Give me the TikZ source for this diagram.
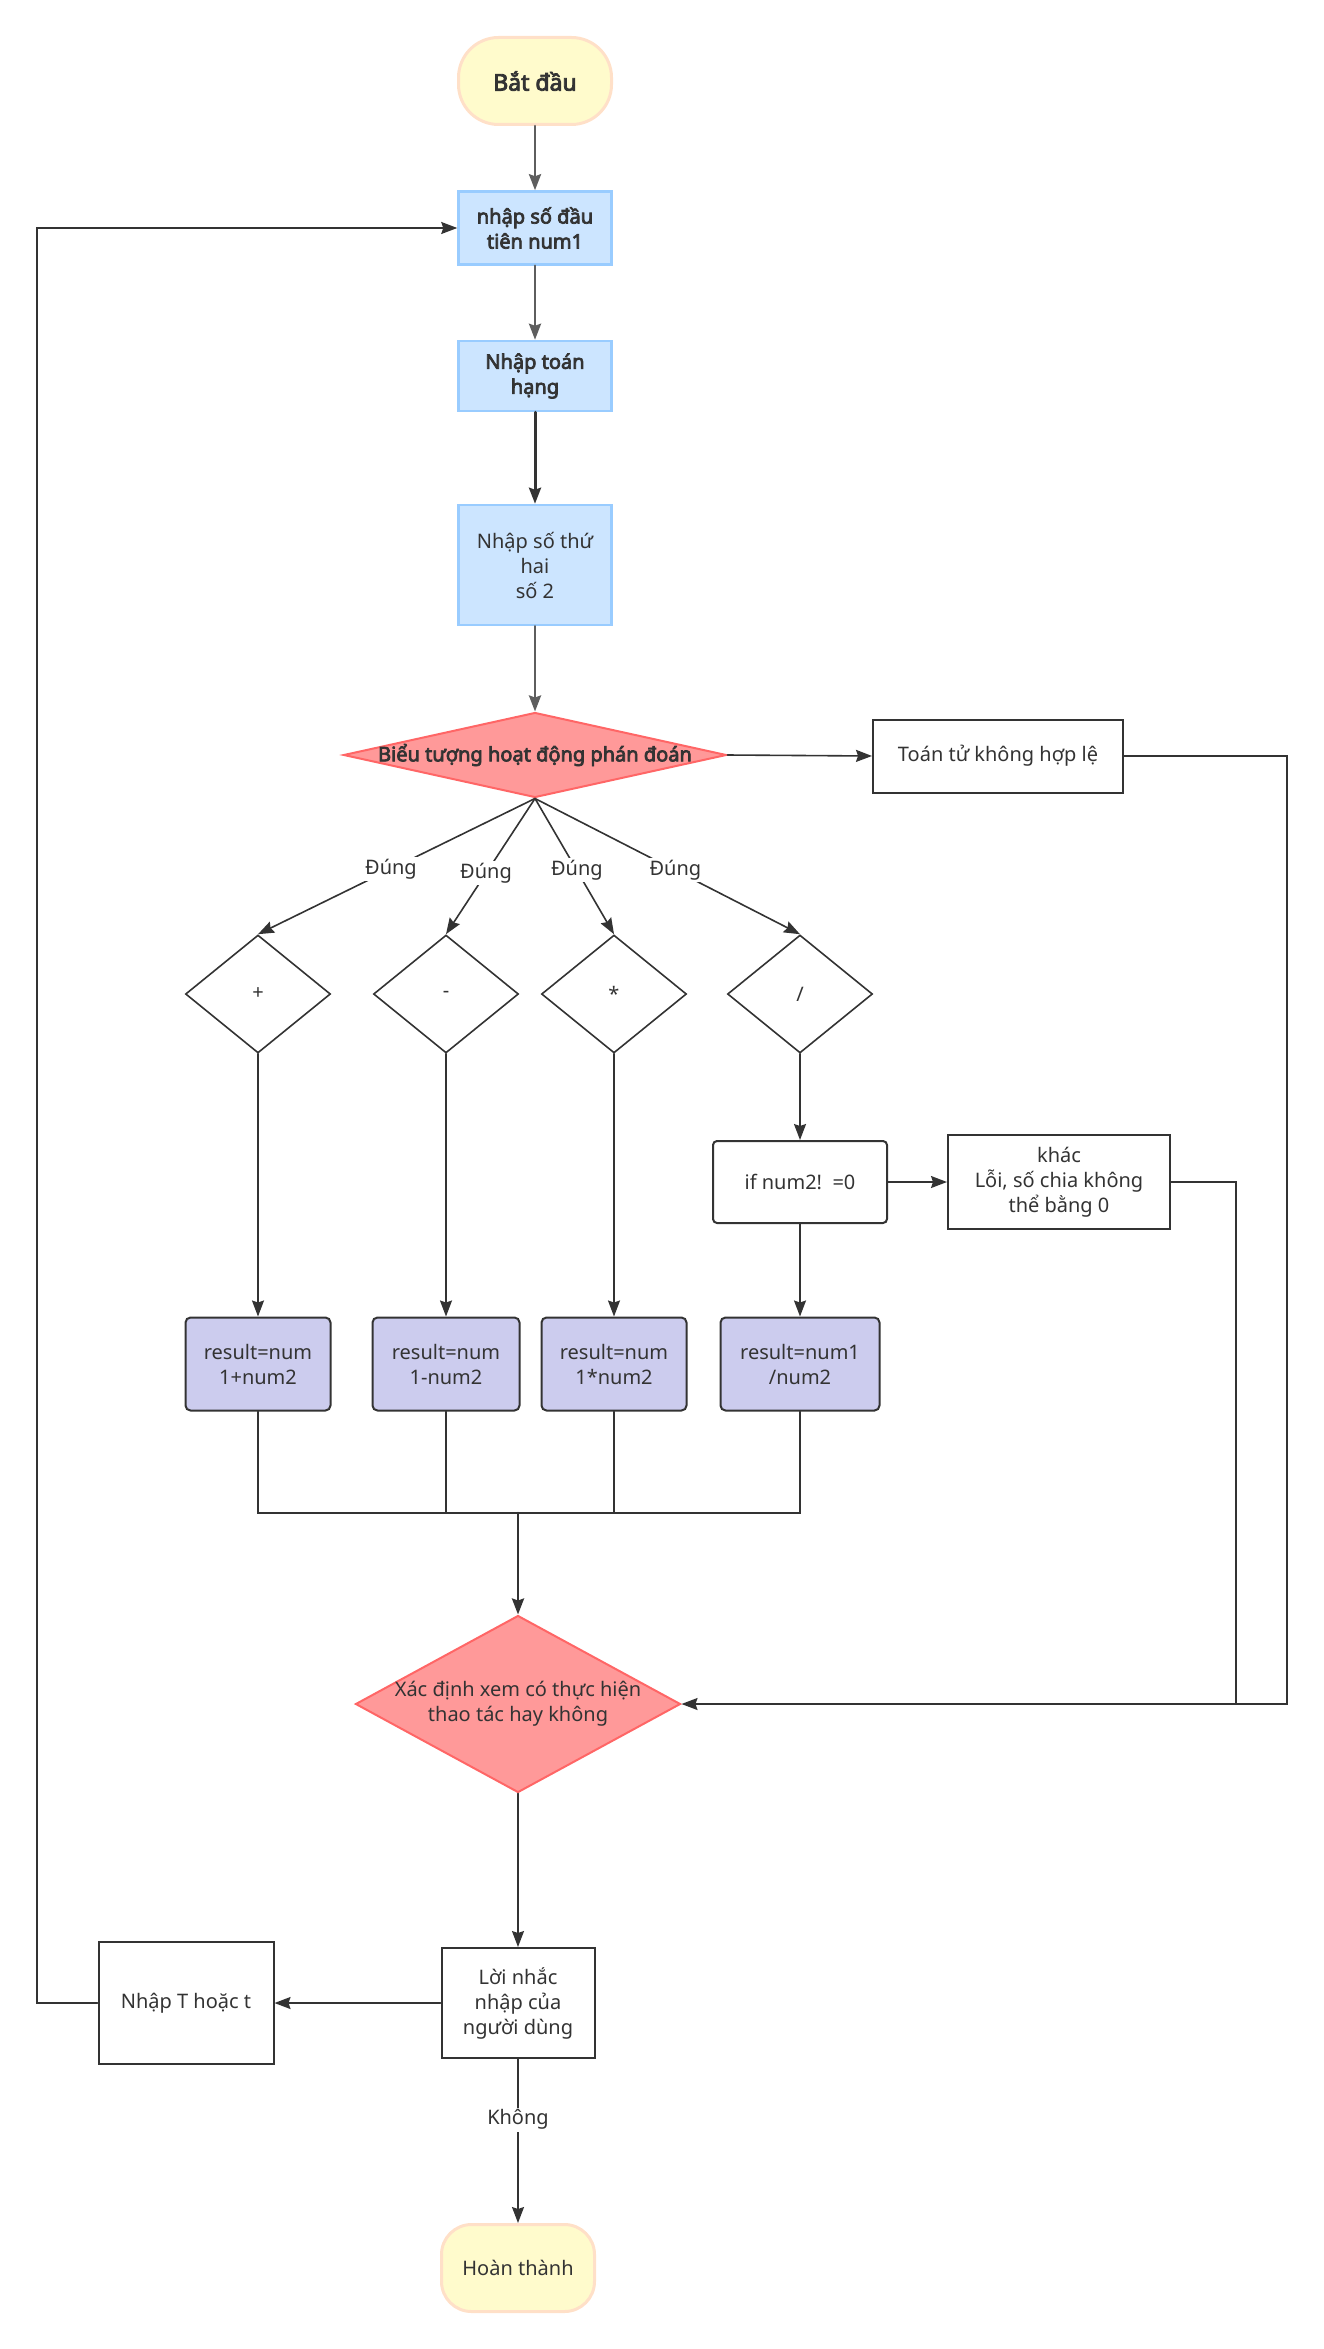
\documentclass[tikz,border=0pt]{standalone}
\usepackage{fontspec}
\setmainfont{Noto Sans}[AutoFakeBold=3.6]
\usetikzlibrary{arrows.meta,shapes.geometric}
\definecolor{startfill}{HTML}{FFFBCC}
\definecolor{startline}{HTML}{FFE0C8}
\definecolor{inputfill}{HTML}{CCE5FF}
\definecolor{inputline}{HTML}{99CCFF}
\definecolor{judgefill}{HTML}{FF9999}
\definecolor{judgeline}{HTML}{FF6666}
\definecolor{calcfill}{HTML}{CCCCEE}
\definecolor{ink}{HTML}{333333}
\definecolor{flowgray}{HTML}{5E5E5E}

\begin{document}
\begin{tikzpicture}[x=1pt,y=-1pt,>={Stealth[length=16pt,width=12pt,inset=2pt]},font=\fontsize{20}{25}\selectfont,line cap=round,text=ink,
  terminal/.style={draw=startline,fill=startfill,line width=3pt,minimum width=153pt,minimum height=87pt,align=center},
  inputbox/.style={draw=inputline,fill=inputfill,line width=2.5pt,minimum width=153pt,align=center,inner sep=0pt},
  judge/.style={diamond,draw=judgeline,fill=judgefill,line width=2pt,inner sep=0pt},
  opdiamond/.style={diamond,draw=ink,line width=1.6pt,minimum width=145pt,minimum height=118pt,inner sep=0pt},
  calcbox/.style={draw=ink,fill=calcfill,line width=2pt,rounded corners=5pt,minimum height=93pt,align=center,inner sep=0pt},
  plainbox/.style={draw=ink,line width=2pt,align=center,inner sep=0pt},
  tag/.style={fill=white,inner sep=2pt},
  flow/.style={draw=ink,line width=1.6pt},
  mainflow/.style={draw=flowgray,line width=2.6pt}]
\useasboundingbox (0,0) rectangle (1324,2349);
% top input chain
\node[terminal,rounded corners=40pt,font=\fontsize{23}{28}\selectfont\bfseries] (start) at (535,81) {Bắt đầu};
\node[inputbox,minimum height=73pt] (num1) at (535,228) {\bfseries nhập số đầu\\\bfseries tiên num1};
\node[inputbox,minimum height=70pt] (oper) at (535,376) {\bfseries Nhập toán\\\bfseries hạng};
\node[inputbox,minimum height=120pt] (num2) at (535,565) {Nhập số thứ\\hai\\số 2};
\node[judge,minimum width=383pt,minimum height=85pt] (pick) at (535,755) {};
\node (pickt) at (pick) {\bfseries Biểu tượng hoạt động phán đoán};
\node[plainbox,minimum width=250pt,minimum height=73pt] (invalid) at (998,756) {Toán tử không hợp lệ};
% operator branches
\node[opdiamond] (plus) at (258,994) {+};
\node[opdiamond] (minus) at (446,994) {-};
\node[opdiamond] (times) at (614,994) {*};
\node[opdiamond] (divide) at (800,994) {/};
\node[plainbox,rounded corners=4pt,minimum width=174pt,minimum height=82pt] (nonzero) at (800,1182) {if num2!\ \ =0};
\node[plainbox,minimum width=222pt,minimum height=94pt] (zeroerr) at (1059,1182) {khác\\Lỗi, số chia không\\thể bằng 0};
\node[calcbox,minimum width=145pt] (res1) at (258,1364) {result=num\\1+num2};
\node[calcbox,minimum width=147pt] (res2) at (446,1364) {result=num\\1-num2};
\node[calcbox,minimum width=145pt] (res3) at (614,1364) {result=num\\1*num2};
\node[calcbox,minimum width=159pt] (res4) at (800,1364) {result=num1\\/num2};
% bottom part
\node[judge,minimum width=325pt,minimum height=177pt] (again) at (518,1704) {};
\node[align=center] (againt) at (again) {Xác định xem có thực hiện\\thao tác hay không};
\node[plainbox,minimum width=153pt,minimum height=110pt] (prompt) at (518,2003) {Lời nhắc\\nhập của\\người dùng};
\node[plainbox,minimum width=175pt,minimum height=122pt] (retry) at (186,2003) {Nhập T hoặc t};
\node[terminal,rounded corners=30pt] (finish) at (518,2268) {Hoàn thành};
\coordinate (edgeA) at (1287,756);
\coordinate (edgeB) at (1236,1182);
\coordinate (merge) at (518,1513);
\coordinate (backA) at (37,2003);

\draw[mainflow,->] (start) -- (num1);
\draw[mainflow,->] (num1) -- (oper);
\draw[mainflow,draw=ink,line width=3pt,->] (oper) -- (num2);
\draw[mainflow,->] (num2) -- (pick.north);
\draw[flow,->] (pick.east) -- (invalid.west);
\draw[flow,->] (invalid.east) -- (edgeA) |- (again.east);
\draw[flow,->] (pick.south) -- node[tag,pos=0.52] (yes1) {Đúng} (plus.north);
\draw[flow,->] (pick.south) -- node[tag,pos=0.55] (yes2) {Đúng} (minus.north);
\draw[flow,->] (pick.south) -- node[tag,pos=0.53] (yes3) {Đúng} (times.north);
\draw[flow,->] (pick.south) -- node[tag,pos=0.53] (yes4) {Đúng} (divide.north);
\draw[flow,->] (plus.south) -- (res1.north);
\draw[flow,->] (minus.south) -- (res2.north);
\draw[flow,->] (times.south) -- (res3.north);
\draw[flow,->] (divide.south) -- (nonzero.north);
\draw[flow,->] (nonzero.south) -- (res4.north);
\draw[flow,->] (nonzero.east) -- (zeroerr.west);
\draw[flow] (zeroerr.east) -- (edgeB) -- (edgeB |- again.east);
\draw[flow] (res1.south) |- (merge);
\draw[flow] (res2.south) |- (merge);
\draw[flow] (res3.south) |- (merge);
\draw[flow] (res4.south) |- (merge);
\draw[flow,line width=2.6pt,->] (merge) -- (again.north);
\draw[flow,->] (again.south) -- (prompt.north);
\draw[flow,->] (prompt.west) -- (retry.east);
\draw[flow,->] (retry.west) -- (backA) |- (num1.west);
\draw[flow,->] (prompt.south) -- node[tag,pos=0.37] (no) {Không} (finish.north);
\end{tikzpicture}
\end{document}
